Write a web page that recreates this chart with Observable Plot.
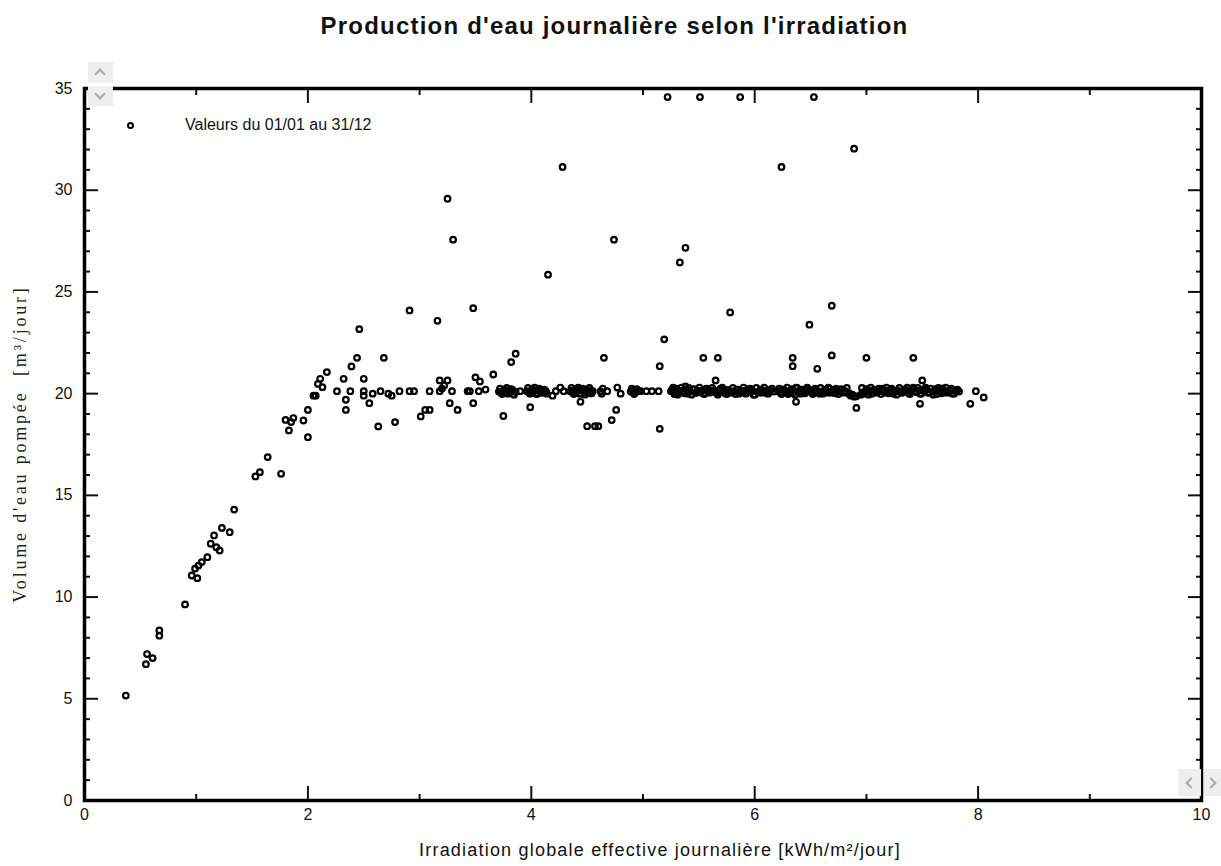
<!DOCTYPE html>
<html><head><meta charset="utf-8">
<script src="https://cdn.jsdelivr.net/npm/d3@7"></script>
<script src="https://cdn.jsdelivr.net/npm/@observablehq/plot@0.6"></script>
<style>
body{margin:0;background:#fff;}
#wrap{position:relative;width:1221px;height:866px;overflow:hidden;font-family:"Liberation Sans",Arial,sans-serif;color:#111;}
#chart{position:absolute;left:0;top:0;}
.title{position:absolute;left:4px;width:1221px;top:14px;text-align:center;font-weight:bold;font-size:24px;line-height:24px;letter-spacing:1.2px;}
.xlabel{position:absolute;left:120px;width:1080px;top:841px;text-align:center;font-size:18px;line-height:19px;letter-spacing:1.2px;}
.ylabel{position:absolute;left:20px;top:444px;transform:translate(-50%,-50%) rotate(-90deg);white-space:pre;font-family:"Liberation Serif","Times New Roman",serif;font-size:18px;line-height:18px;letter-spacing:2.8px;color:#2a1f18;}
.legtext{position:absolute;left:185px;top:116px;font-size:16px;line-height:18px;}
.legdot{position:absolute;left:126.5px;top:121.5px;width:3px;height:3px;border:2px solid #000;border-radius:50%;}
.btn{position:absolute;background:#eeeeee;}
.chev{position:absolute;width:6px;height:6px;border-top:2px solid #aaa;border-left:2px solid #aaa;}
</style></head>
<body>
<div id="wrap">
  <div id="chart"></div>
  <div class="title">Production d'eau journalière selon l'irradiation</div>
  <div class="xlabel">Irradiation globale effective journalière [kWh/m²/jour]</div>
  <div class="ylabel">Volume d'eau pompée  [m³/jour]</div>
  <div class="legdot"></div>
  <div class="legtext">Valeurs du 01/01 au 31/12</div>
  <div class="btn" style="left:88px;top:62px;width:25px;height:21px;"><div class="chev" style="left:8px;top:8px;transform:rotate(45deg);"></div></div>
  <div class="btn" style="left:88px;top:86px;width:25px;height:20px;"><div class="chev" style="left:8px;top:4px;transform:rotate(225deg);"></div></div>
  <div class="btn" style="left:1178px;top:769px;width:23px;height:27px;"><div class="chev" style="left:9px;top:10px;transform:rotate(-45deg);"></div></div>
  <div class="btn" style="left:1204px;top:769px;width:17px;height:27px;"><div class="chev" style="left:3px;top:10px;transform:rotate(135deg);"></div></div>
</div>
<script>
// Tick values
const xMajor = [0, 2, 4, 6, 8, 10];
const xMinor = [1, 3, 5, 7, 9];
const yMajor = [0, 5, 10, 15, 20, 25, 30, 35];
const yMinor = [1,2,3,4,6,7,8,9,11,12,13,14,16,17,18,19,21,22,23,24,26,27,28,29,31,32,33,34];

// Rising part (low irradiation)
const rampX = [0.37,0.55,0.56,0.61,0.67,0.67,0.90,0.96,0.99,1.01,1.02,1.05,1.10,1.13,1.16,1.18,1.21,1.23,1.30,1.34,1.53,1.57,1.64,1.76,1.80,1.83,1.85,1.87,1.96,2.00,2.00,2.05,2.07,2.09,2.11,2.13,2.17];
const rampY = [5.16,6.70,7.20,7.00,8.36,8.10,9.64,11.06,11.40,10.93,11.55,11.72,11.96,12.62,13.03,12.45,12.29,13.40,13.19,14.30,15.93,16.14,16.88,16.06,18.71,18.19,18.60,18.80,18.68,17.86,19.20,19.90,19.90,20.48,20.73,20.32,21.06];

// Scattered values around and above the plateau
const scatterX = [2.26,2.32,2.34,2.34,2.38,2.39,2.44,2.46,2.50,2.50,2.50,2.55,2.58,2.63,2.65,2.68,2.72,2.75,2.78,2.82,
  2.91,2.91,2.95,3.01,3.05,3.09,3.09,3.16,3.18,3.18,3.20,3.22,3.25,3.25,3.27,3.29,3.30,3.34,3.43,3.45,
  3.48,3.48,3.50,3.53,3.54,3.59,3.66,3.75,3.82,3.86,3.90,3.99,4.14,4.15,4.19,4.22,4.26,4.28,4.29,4.44,
  4.50,4.57,4.60,4.65,4.68,4.72,4.74,4.76,4.77,4.80,4.98,5.03,5.08,5.14,5.15,5.15,5.19,5.22,5.33,5.38,
  5.51,5.54,5.65,5.67,5.78,5.87,6.24,6.34,6.34,6.37,6.49,6.53,6.56,6.69,6.69,6.89,6.91,6.91,7.00,7.42,
  7.48,7.50,7.93,7.98,8.05];
const scatterY = [20.12,20.73,19.70,19.20,20.12,21.34,21.76,23.17,20.73,20.12,19.90,19.53,20.00,18.39,20.12,21.76,20.00,19.90,18.60,20.12,
  24.09,20.12,20.12,18.88,19.20,19.20,20.12,23.58,20.65,20.12,20.25,20.40,20.65,29.58,19.53,20.12,27.57,19.20,20.12,20.12,
  24.20,19.53,20.80,20.12,20.60,20.20,20.94,18.90,21.55,21.96,20.12,19.33,20.00,25.85,19.90,20.12,20.30,31.14,20.12,19.60,
  18.40,18.40,18.40,21.76,20.12,18.70,27.57,19.20,20.30,20.00,20.12,20.12,20.12,20.12,18.27,21.35,22.67,34.58,26.45,27.17,
  34.58,21.76,20.65,21.76,23.99,34.58,31.14,21.76,21.35,19.60,23.39,34.58,21.22,24.32,21.88,32.04,19.30,19.87,21.76,21.76,
  19.50,20.65,19.50,20.12,19.81];

// Dense plateau at the pump's daily limit
const bandX = [3.71,3.73,3.75,3.77,3.79,3.81,3.83,3.86,
  3.96,3.98,4.00,4.02,4.04,4.06,4.08,4.10,4.13,
  4.35,4.37,4.39,4.41,4.43,4.45,4.47,4.49,4.51,4.53,4.55,
  4.62,4.63,4.64,
  4.89,4.91,4.93,4.96,
  5.25,5.27,5.29,5.31,5.33,5.36,5.38,5.40,5.42,5.45,5.47,5.49,5.52,5.54,5.56,5.58,5.61,5.63,5.66,5.68,5.70,5.72,5.75,5.77,5.79,5.82,5.84,5.86,5.89,5.91,5.93,5.96,5.98,6.00,6.03,6.05,6.07,6.10,6.12,6.14,6.17,
  6.21,6.23,6.25,6.28,6.30,6.32,6.35,6.37,6.39,6.41,6.44,6.46,6.48,6.51,6.53,6.55,6.58,6.60,6.62,6.65,6.67,6.69,6.72,6.74,6.76,6.79,6.81,6.84,6.86,6.89,
  6.95,6.97,6.99,7.01,7.03,7.05,7.08,7.10,7.12,7.14,7.17,7.19,7.21,7.24,7.26,7.28,7.31,7.33,7.35,7.38,7.40,7.42,7.45,7.47,7.49,7.52,7.54,7.56,7.59,7.61,7.63,7.66,7.68,7.70,7.72,7.75,7.77,7.80,7.83];
const bandY = [20.10,20.05,20.15,20.10,20.00,20.12,20.20,20.08,
  20.12,20.05,20.15,20.10,20.00,20.18,20.10,20.05,20.12,
  20.10,20.15,20.05,20.12,20.00,20.20,20.10,20.08,20.15,20.02,20.12,
  20.12,20.00,20.25,
  20.10,20.15,20.05,20.12,
  20.12,20.30,20.05,19.95,20.15,20.10,20.35,20.00,20.12,20.20,20.05,20.15,20.10,20.00,20.22,20.12,20.08,20.15,20.02,20.12,20.25,20.10,19.98,20.15,20.05,20.12,20.20,20.00,20.10,20.15,20.05,20.25,20.12,19.95,20.10,20.18,20.05,20.12,20.00,20.15,20.10,
  20.12,20.05,20.20,20.10,19.98,20.15,20.08,20.30,20.12,20.00,20.15,20.10,20.22,20.05,20.12,20.18,20.00,20.10,20.15,20.05,20.25,20.12,20.02,20.10,20.18,20.05,20.12,20.00,19.90,19.85,
  19.95,20.05,20.12,20.20,20.10,20.00,20.15,20.08,20.12,20.25,20.05,20.10,20.18,20.00,20.12,20.15,20.05,20.10,20.20,20.02,20.12,20.30,20.08,20.15,20.00,20.12,20.20,20.05,20.10,20.15,19.98,20.12,20.25,20.05,20.10,20.15,20.00,20.12,20.10];

// Further days packed into the same plateau
const band2X = [3.72,3.74,3.76,3.78,3.80,3.82,3.845,
  3.97,3.99,4.01,4.03,4.05,4.07,4.09,4.115,
  4.36,4.38,4.40,4.42,4.44,4.46,4.48,4.50,4.52,4.54,
  4.90,4.92,4.945,
  5.26,5.28,5.30,5.32,5.345,5.37,5.39,5.41,5.435,5.46,5.48,5.505,5.53,5.55,5.57,5.595,5.62,5.645,5.67,5.69,5.71,5.735,5.76,5.78,5.805,5.83,5.85,5.875,5.90,5.92,5.945,5.97,5.99,6.015,6.04,6.06,6.085,6.11,6.13,6.155,
  6.22,6.24,6.265,6.29,6.31,6.335,6.36,6.38,6.40,6.425,6.45,6.47,6.495,6.52,6.54,6.565,6.59,6.61,6.635,6.66,6.68,6.705,6.73,6.75,6.775,6.80,6.825,6.85,6.875,
  6.96,6.98,7.00,7.02,7.04,7.065,7.09,7.11,7.13,7.155,7.18,7.20,7.225,7.25,7.27,7.295,7.32,7.34,7.365,7.39,7.41,7.435,7.46,7.48,7.505,7.53,7.55,7.575,7.60,7.62,7.645,7.67,7.69,7.71,7.735,7.76,7.785,7.815];
const band2Y = [20.25,19.98,20.20,20.28,20.02,20.22,19.95,
  20.28,20.00,20.22,20.30,19.98,20.25,20.05,20.20,
  20.28,19.98,20.22,20.30,20.00,20.25,19.95,20.20,20.28,20.02,
  20.25,19.98,20.22,
  20.20,19.98,20.25,20.08,20.30,20.02,20.18,20.28,19.95,20.22,20.05,20.30,20.15,19.98,20.25,20.05,20.28,20.12,19.95,20.22,20.30,20.02,20.18,20.08,20.28,19.98,20.20,20.10,20.30,20.00,20.22,20.15,19.95,20.28,20.05,20.20,20.30,20.02,20.18,20.25,
  20.25,19.98,20.18,20.30,20.05,20.22,19.95,20.28,20.10,20.20,20.02,20.30,20.15,19.98,20.25,20.08,20.28,20.00,20.20,20.30,20.05,20.18,20.25,19.98,20.22,20.10,20.28,20.00,19.95,
  20.28,20.00,20.22,19.95,20.30,20.18,20.05,20.25,19.98,20.20,20.30,20.02,20.25,20.12,19.95,20.28,20.05,20.20,20.30,19.98,20.22,20.10,20.28,20.00,20.18,20.30,20.05,20.25,19.95,20.22,20.28,20.02,20.18,20.30,20.05,20.25,20.00,20.20];

const points = [];
[[rampX, rampY], [scatterX, scatterY], [bandX, bandY], [band2X, band2Y]].forEach(([xs, ys]) => {
  xs.forEach((x, i) => { if (ys[i] !== undefined) points.push({x, y: ys[i]}); });
});

const blank = () => "";
const tickStyle = {strokeWidth: 2, label: null};

const plot = Plot.plot({
  width: 1221, height: 866,
  marginLeft: 84, marginRight: 20, marginTop: 88, marginBottom: 66,
  style: {fontFamily: "'Liberation Sans', Arial, sans-serif", fontSize: "16px", color: "#111", background: "transparent"},
  x: {domain: [0, 10]},
  y: {domain: [0, 35]},
  marks: [
    Plot.axisX(xMajor, {anchor: "bottom", tickSize: -14, tickPadding: 22, tickFormat: d => String(d), ...tickStyle}),
    Plot.axisX(xMinor, {anchor: "bottom", tickSize: -6, tickFormat: blank, ...tickStyle}),
    Plot.axisX(xMajor, {anchor: "top", tickSize: -14, tickFormat: blank, ...tickStyle}),
    Plot.axisX(xMinor, {anchor: "top", tickSize: -6, tickFormat: blank, ...tickStyle}),
    Plot.axisY(yMajor, {anchor: "left", tickSize: -14, tickPadding: 26, tickFormat: d => String(d), ...tickStyle}),
    Plot.axisY(yMinor, {anchor: "left", tickSize: -6, tickFormat: blank, ...tickStyle}),
    Plot.axisY(yMajor, {anchor: "right", tickSize: -14, tickFormat: blank, ...tickStyle}),
    Plot.axisY(yMinor, {anchor: "right", tickSize: -6, tickFormat: blank, ...tickStyle}),
    Plot.dot(points, {x: "x", y: "y", r: 2.8, stroke: "black", strokeWidth: 2.2, fill: "none"}),
    Plot.frame({strokeWidth: 3.5, stroke: "black"})
  ]
});
document.getElementById("chart").appendChild(plot);
</script>
</body></html>
